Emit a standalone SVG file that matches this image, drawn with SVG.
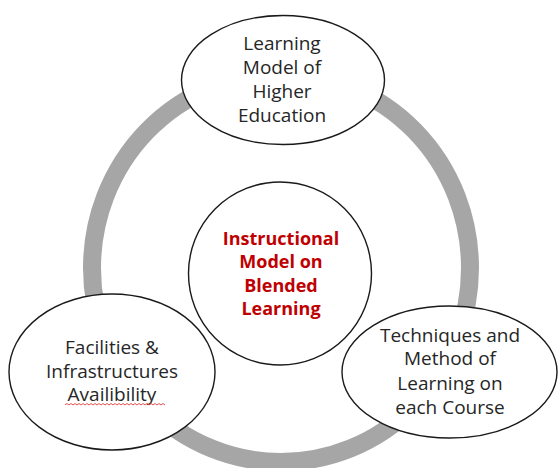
<svg xmlns="http://www.w3.org/2000/svg" width="558" height="468" viewBox="0 0 558 468">
<style>
.node{fill:#ffffff;stroke:#1a1a1a;stroke-width:1.4}
.t{font-family:"Open Sans","Liberation Sans",sans-serif;font-size:19px;fill:#262626;text-anchor:middle}
.c{font-family:"Open Sans","Liberation Sans",sans-serif;font-size:18px;font-weight:bold;fill:#c00000;text-anchor:middle}
</style>
<rect width="558" height="468" fill="#ffffff"/>
<g id="connectors">
<ellipse cx="281" cy="268" rx="189" ry="194" fill="none" stroke="#a6a6a6" stroke-width="18"/>
</g>
<g id="center">
<circle class="node" cx="280" cy="273.5" r="91.5"/>
<text class="c" x="281" y="244.5">Instructional</text>
<text class="c" x="281" y="268">Model on</text>
<text class="c" x="281" y="291.5">Blended</text>
<text class="c" x="281" y="315">Learning</text>
</g>
<g id="top">
<ellipse class="node" cx="283" cy="80" rx="101.5" ry="64.5"/>
<text class="t" x="282" y="49.5">Learning</text>
<text class="t" x="282" y="73.5">Model of</text>
<text class="t" x="282" y="97.5">Higher</text>
<text class="t" x="282" y="121.5">Education</text>
</g>
<g id="left">
<ellipse class="node" cx="112" cy="372" rx="103" ry="78"/>
<text class="t" x="112" y="354">Facilities &amp;</text>
<text class="t" x="112" y="377.5">Infrastructures</text>
<text class="t" x="112" y="401">Availibility</text>
<path d="M65,405 l2,-1.5 l2,1.5 l2,-1.5 l2,1.5 l2,-1.5 l2,1.5 l2,-1.5 l2,1.5 l2,-1.5 l2,1.5 l2,-1.5 l2,1.5 l2,-1.5 l2,1.5 l2,-1.5 l2,1.5 l2,-1.5 l2,1.5 l2,-1.5 l2,1.5 l2,-1.5 l2,1.5 l2,-1.5 l2,1.5 l2,-1.5 l2,1.5 l2,-1.5 l2,1.5 l2,-1.5 l2,1.5 l2,-1.5 l2,1.5 l2,-1.5 l2,1.5 l2,-1.5 l2,1.5 l2,-1.5 l2,1.5 l2,-1.5 l2,1.5 l2,-1.5 l2,1.5 l2,-1.5 l2,1.5 l2,-1.5 l2,1.5 l2,-1.5 l2,1.5 l2,-1.5 l2,1.5" fill="none" stroke="#e03c3c" stroke-width="0.9"/>
</g>
<g id="right">
<ellipse class="node" cx="449.5" cy="372" rx="107.5" ry="66"/>
<text class="t" x="450" y="341.5">Techniques and</text>
<text class="t" x="450" y="365">Method of</text>
<text class="t" x="450" y="389.5">Learning on</text>
<text class="t" x="450" y="414">each Course</text>
</g>
</svg>
